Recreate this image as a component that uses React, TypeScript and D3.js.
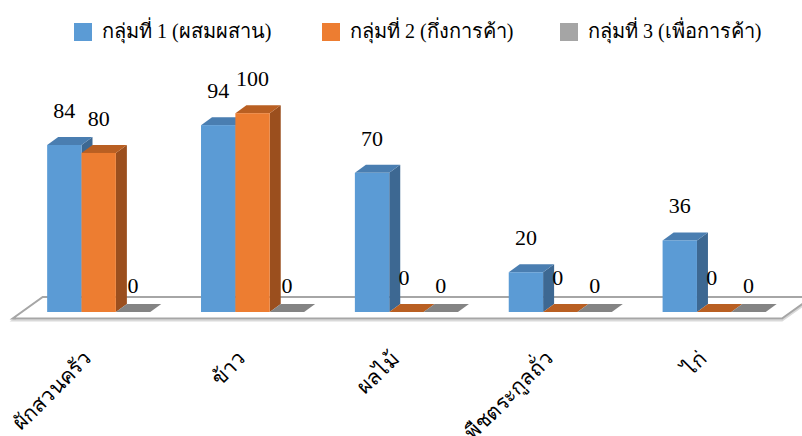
import React from 'react';
import * as d3 from 'd3';

const categories = ['ผักสวนครัว', 'ข้าว', 'ผลไม้', 'พืชตระกูลถั่ว', 'ไก่'];
const seriesNames = ['กลุ่มที่ 1 (ผสมผสาน)', 'กลุ่มที่ 2 (กึ่งการค้า)', 'กลุ่มที่ 3 (เพื่อการค้า)'];
const group1 = [84, 94, 70, 20, 36];
const group2 = [80, 100, 0, 0, 0];
const group3 = [0, 0, 0, 0, 0];

const W = 802;
const H = 436;

// front / top / side shades per series
const palette = [
  { front: '#5b9bd5', top: '#4a7eb1', side: '#3d6892' },
  { front: '#ed7d31', top: '#b95f22', side: '#9b4f1e' },
  { front: '#a5a5a5', top: '#848484', side: '#6e6e6e' },
];

const floor = { x0: 12.7, x1: 782, yFront: 318.5, dx: 30, dy: -21.5 };
const barDepth = { dx: 11, dy: -8 };
const base = 312;

const App = () => {
  const values = [group1, group2, group3];
  const shift = ((floor.yFront - base) / -floor.dy) * floor.dx;

  const x = d3
    .scaleBand<string>()
    .domain(categories)
    .range([floor.x0 + shift, floor.x1 + shift])
    .paddingInner(0.33)
    .paddingOuter(0.165);
  const xs = d3.scaleBand<number>().domain([0, 1, 2]).range([0, x.bandwidth()]);
  const y = d3.scaleLinear().domain([0, 100]).range([base, 113.2]);

  const floorPts: [number, number][] = [
    [floor.x0, floor.yFront],
    [floor.x1, floor.yFront],
    [floor.x1 + floor.dx, floor.yFront + floor.dy],
    [floor.x0 + floor.dx, floor.yFront + floor.dy],
  ];
  const line = d3.line();

  const bars: React.ReactElement[] = [];
  const labels: React.ReactElement[] = [];
  categories.forEach((c, ci) => {
    values.forEach((vals, si) => {
      const v = vals[ci];
      const x0 = (x(c) ?? 0) + (xs(si) ?? 0);
      const bw = xs.bandwidth();
      const yt = y(v);
      const { dx, dy } = barDepth;
      const col = palette[si];
      const top: [number, number][] = [
        [x0, yt], [x0 + bw, yt], [x0 + bw + dx, yt + dy], [x0 + dx, yt + dy],
      ];
      const side: [number, number][] = [
        [x0 + bw, yt], [x0 + bw, base], [x0 + bw + dx, base + dy], [x0 + bw + dx, yt + dy],
      ];
      bars.push(
        <g key={`b${ci}-${si}`}>
          <path d={line(side) + 'Z'} fill={col.side} />
          <path d={line(top) + 'Z'} fill={col.top} />
          {v > 0 && <rect x={x0} y={yt} width={bw} height={base - yt} fill={col.front} />}
        </g>,
      );
      let ly = yt - 27;
      let lx = x0 + bw / 2;
      if (v === 0 && si === 2) ly = base - 19;
      if (v === 0 && si === 1) lx -= 2.5;
      labels.push(
        <text key={`l${ci}-${si}`} x={lx} y={ly} textAnchor="middle" fontSize={22}
          fontFamily="'Liberation Serif', 'Times New Roman', serif" fill="#000">
          {v}
        </text>,
      );
    });
  });

  const legendX = [74, 322, 560];

  return (
    <svg width={W} height={H} style={{ position: 'absolute', left: 0, top: 0 }}>
      <rect width={W} height={H} fill="#fff" />
      <path d={line(floorPts.map(([a, b]) => [a, b + 2]) as [number, number][]) + 'Z'} fill="none" stroke="#d9d9d9" strokeWidth={2} />
      <path d={line(floorPts) + 'Z'} fill="#fff" stroke="#a6a6a6" strokeWidth={2} />
      {bars}
      {labels}
      {categories.map((c) => (
        <text key={c} transform={`translate(${(x(c) ?? 0) + x.bandwidth() / 2 - 6},360) rotate(-45)`}
          textAnchor="end" fontSize={21} fontFamily="'Liberation Serif', serif" fill="#000">
          {c}
        </text>
      ))}
      {seriesNames.map((s, i) => (
        <g key={s} transform={`translate(${legendX[i]},23)`}>
          <rect width={18} height={18} fill={palette[i].front} />
          <text x={28} y={15} fontSize={20} fontFamily="'Liberation Serif', serif" fill="#000">{s}</text>
        </g>
      ))}
    </svg>
  );
};

export default App;
